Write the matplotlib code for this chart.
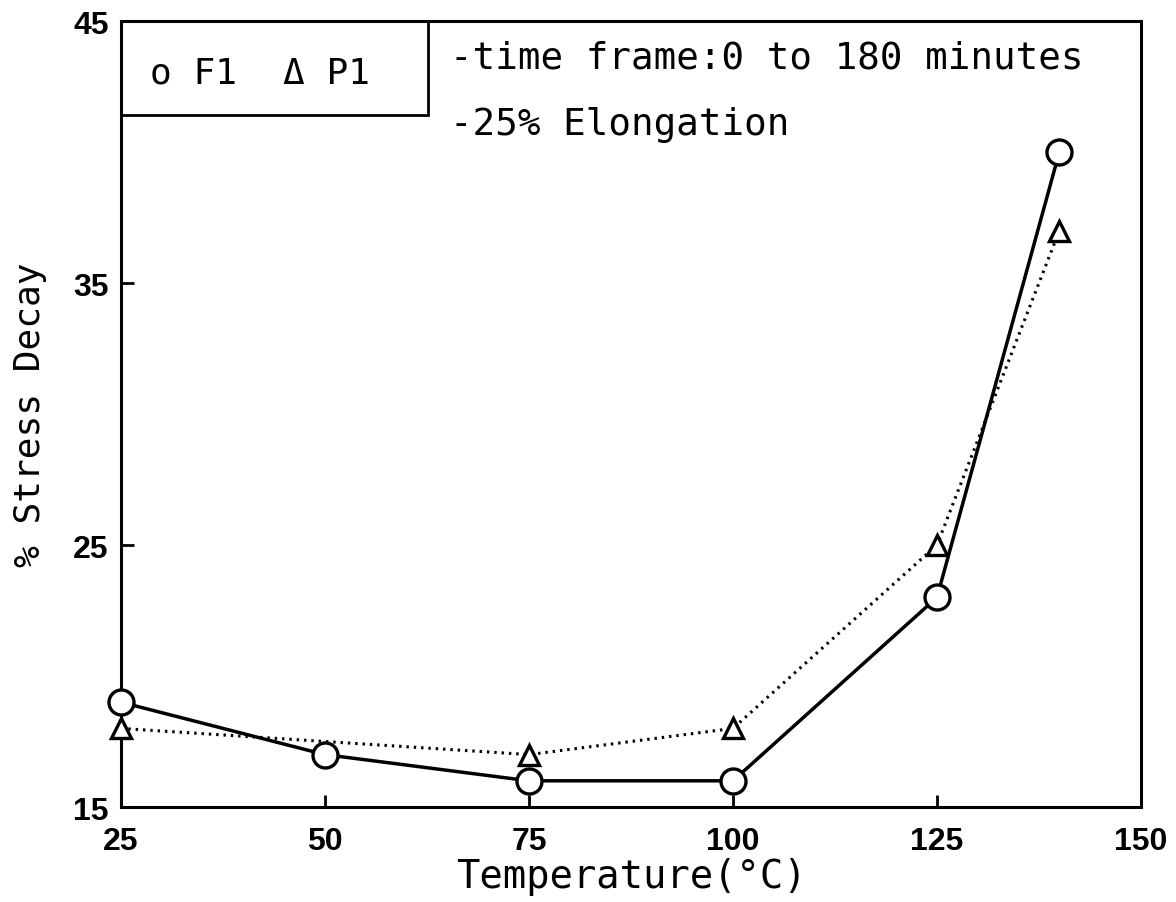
import matplotlib
matplotlib.use("Agg")
import matplotlib.pyplot as plt
from matplotlib.patches import Rectangle

# Temperatures (°C) and % stress decay for each formulation
temp_f1 = [25, 50, 75, 100, 125, 140]
decay_f1 = [19, 17, 16, 16, 23, 40]
temp_p1 = [25, 75, 100, 125, 140]
decay_p1 = [18, 17, 18, 25, 37]

x_ticks = [25, 50, 75, 100, 125, 150]
y_ticks = [15, 25, 35, 45]

MONO = "DejaVu Sans Mono"

fig = plt.figure(figsize=(11.76, 9.03), dpi=100)
ax = fig.add_axes([0.1029, 0.1052, 0.8673, 0.8704])

ax.plot(temp_f1, decay_f1, color="black", lw=2.5, ls="-",
        marker="o", ms=18, mfc="white", mec="black", mew=2.4, clip_on=False, zorder=3)
ax.plot(temp_p1, decay_p1, color="black", lw=2.2, ls=(0, (0.8, 1.6)),
        marker="^", ms=15, mfc="white", mec="black", mew=2.4, clip_on=False, zorder=3)

ax.set_xlim(25, 150)
ax.set_ylim(15, 45)
ax.set_xticks(x_ticks)
ax.set_yticks(y_ticks)

tick_font = dict(family=["Liberation Sans", "DejaVu Sans"], size=23, weight="bold")
ax.set_xticklabels([str(t) for t in x_ticks], **tick_font)
ax.set_yticklabels([str(t) for t in y_ticks], **tick_font)
ax.tick_params(direction="in", length=9, width=2, top=False, right=False)
ax.tick_params(axis="x", pad=14)
ax.tick_params(axis="y", pad=9)

for s in ax.spines.values():
    s.set_linewidth(2.2)

ax.set_xlabel("Temperature(°C)", family=MONO, size=28, va="center")
ax.xaxis.set_label_coords(0.5, -0.088)
ax.set_ylabel("% Stress Decay", family=MONO, size=26, va="center")
ax.yaxis.set_label_coords(-0.089, 0.5)

# Legend box in the upper-left corner
ax.add_patch(Rectangle((0, 0.880), 0.301, 0.12, transform=ax.transAxes,
                       fill=False, lw=2.0, ec="black", clip_on=False, zorder=4))
ax.text(0.028, 0.934, "o F1", transform=ax.transAxes, va="center", ha="left",
        family=MONO, size=26)
ax.text(0.159, 0.934, "\u0394 P1", transform=ax.transAxes, va="center", ha="left",
        family=MONO, size=26)

ax.text(0.3225, 0.954, "-time frame:0 to 180 minutes", transform=ax.transAxes,
        va="center", ha="left", family=MONO, size=27)
ax.text(0.3225, 0.869, "-25% Elongation", transform=ax.transAxes,
        va="center", ha="left", family=MONO, size=27)

fig.savefig("out.png", dpi=100)
